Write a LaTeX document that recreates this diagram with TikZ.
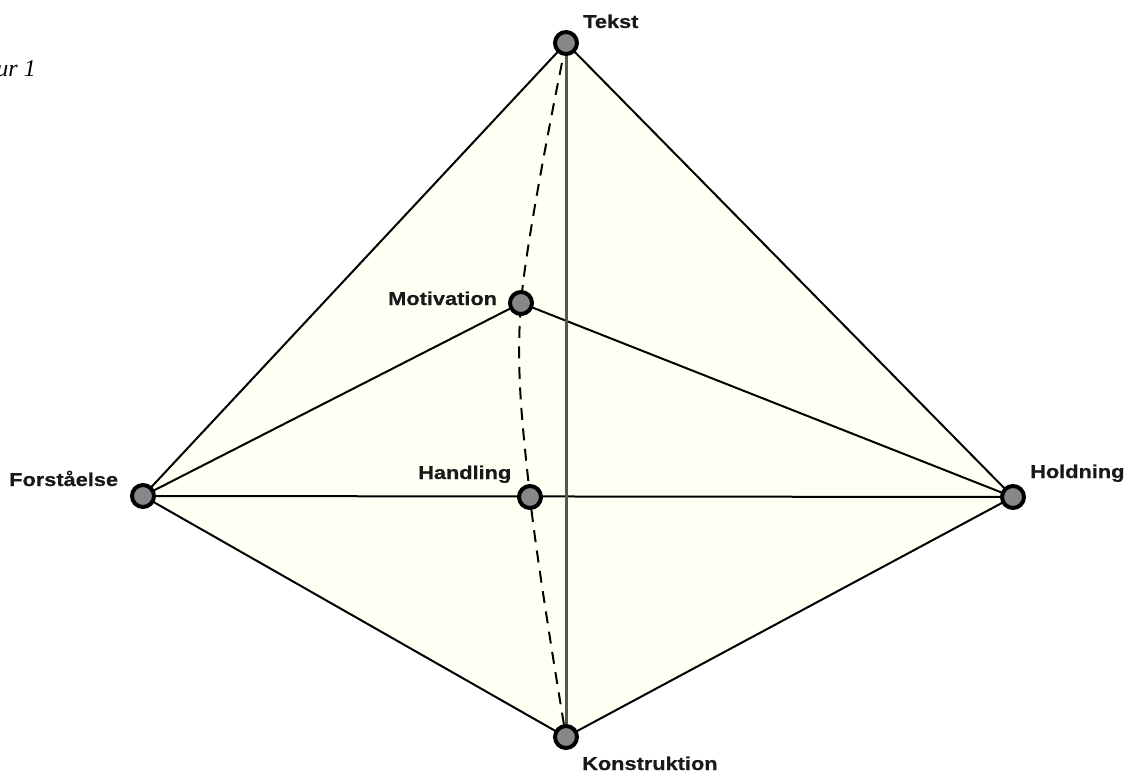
\documentclass[tikz,border=0pt]{standalone}
\usepackage{fontspec}
\setmainfont{Liberation Sans}
\newfontfamily\labelfont[FakeStretch=1.17,FakeBold=0.6]{Liberation Sans Bold}
\newfontfamily\figfont{Liberation Serif}
\definecolor{facefill}{RGB}{255,255,244}
\definecolor{dotfill}{RGB}{135,135,135}
\definecolor{axisgray}{RGB}{85,85,85}
\tikzset{
  dot/.style={circle, draw=black, line width=4pt, fill=dotfill, minimum size=22pt, inner sep=0pt},
  edge/.style={draw=black, line width=2pt},
  axis/.style={draw=axisgray, line width=3pt},
  hidden/.style={draw=black, line width=2pt, dash pattern=on 12pt off 8.5pt},
  lbl/.style={inner sep=0pt, font=\labelfont\fontsize{18.6}{22}\selectfont, text=black!90}
}
\begin{document}
\begin{tikzpicture}[x=1pt, y=-1pt]
\useasboundingbox (0,0) rectangle (1128,776);
\fill[white] (0,0) rectangle (1128,776);

% vertex positions
\coordinate (T) at (566,43);
\coordinate (M) at (521,303);
\coordinate (F) at (143,496);
\coordinate (H) at (530,497);
\coordinate (L) at (1013,497);
\coordinate (K) at (566,737);

% outer faces of the double pyramid
\fill[facefill] (T) -- (L) -- (K) -- (F) -- cycle;

% solid edges
\draw[edge] (T) -- (F);
\draw[edge] (T) -- (L);
\draw[edge] (F) -- (K);
\draw[edge] (L) -- (K);
\draw[edge] (F) -- (M);
\draw[edge] (M) -- (L);
\draw[edge] (F) -- (L);
\draw[axis] (T) -- (K);

% hidden curved edge through the inner vertices
\draw[hidden] plot[smooth, tension=0.55] coordinates {(T) (M) (H) (K)};

% vertices
\node[dot] (tekst) at (T) {};
\node[dot] (motivation) at (M) {};
\node[dot] (forstaaelse) at (F) {};
\node[dot] (handling) at (H) {};
\node[dot] (holdning) at (L) {};
\node[dot] (konstruktion) at (K) {};

% labels
\node[lbl, anchor=base west] (tTekst) at (583,28) {Tekst};
\node[lbl, anchor=base west] (tMotivation) at (388,305) {Motivation};
\node[lbl, anchor=base west] (tForst) at (9,486) {Forståelse};
\node[lbl, anchor=base west] (tHandling) at (418,479) {Handling};
\node[lbl, anchor=base west] (tHoldning) at (1030,478) {Holdning};
\node[lbl, anchor=base west] (tKonstruktion) at (582,770) {Konstruktion};

% figure caption, running off the left edge
\node[inner sep=0pt, anchor=base east, font=\figfont\itshape\fontsize{24}{28}\selectfont] (caption) at (36,77) {Figur 1};
\end{tikzpicture}
\end{document}
